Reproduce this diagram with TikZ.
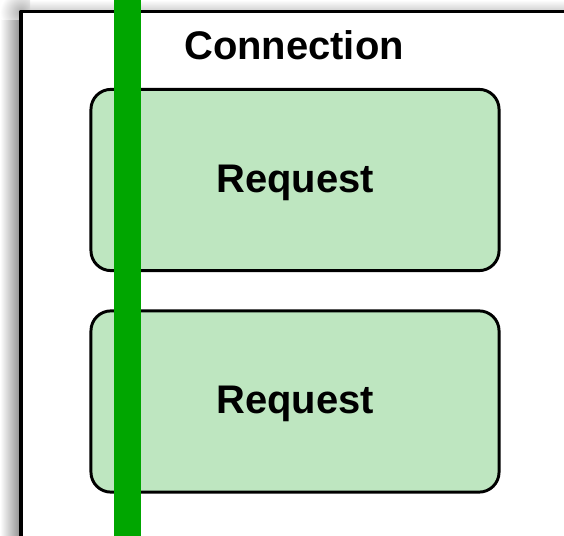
\documentclass[tikz,border=0pt]{standalone}
\usepackage{fontspec}
\setsansfont{Liberation Sans}
\usepackage{tikz}

\begin{document}
\begin{tikzpicture}[
    line cap=round,
    line join=round,
    font=\sffamily\bfseries,
    x=0.025cm,
    y=-0.025cm
]

% =========================================================
% Colors
% =========================================================
\definecolor{reqfill}{RGB}{190,230,192}
\definecolor{threadgreen}{RGB}{0,166,0}
\definecolor{shadowgray}{RGB}{140,140,140}

% =========================================================
% Styles
% =========================================================
\tikzset{
    connframe/.style={draw=black,line width=2.2pt,fill=white},
    reqbox/.style={draw=black,line width=2.1pt,fill=reqfill,
        rounded corners=0.5cm,minimum width=10.2cm,minimum height=4.53cm,
        text depth=2pt,
        font=\fontsize{28.4}{34}\selectfont\sffamily\bfseries},
    thread/.style={threadgreen,line width=19pt,line cap=butt}
}

\useasboundingbox (0,0) rectangle (564,536);
\clip (0,0) rectangle (564,536);

% =========================================================
% Shadow of the frame
% =========================================================
\shade[left color=white,right color=shadowgray] (0,20) rectangle (21,536);
\shade[top color=white,bottom color=shadowgray!45] (30,0) rectangle (564,12);
\begin{scope}
    \clip (0,0) -- (30,0) -- (30,12) -- (21,20) -- (0,20) -- cycle;
    \shade[inner color=shadowgray!70,outer color=white] (21,12) circle (21);
\end{scope}

% =========================================================
% Connection frame
% =========================================================
\path[connframe] (21,11.5) rectangle (640,620);
\node[font=\fontsize{28.4}{34}\selectfont\sffamily\bfseries]
    (conn) at (294,45) {Connection};

% =========================================================
% Requests
% =========================================================
\node[reqbox] (req1) at (295,180) {Request};
\node[reqbox] (req2) at (295,401.5) {Request};

% =========================================================
% Thread line (on top)
% =========================================================
\coordinate (threadtop) at (127.5,-5);
\coordinate (threadbot) at (127.5,545);
\draw[thread] (threadtop) -- (threadbot);

\end{tikzpicture}
\end{document}
